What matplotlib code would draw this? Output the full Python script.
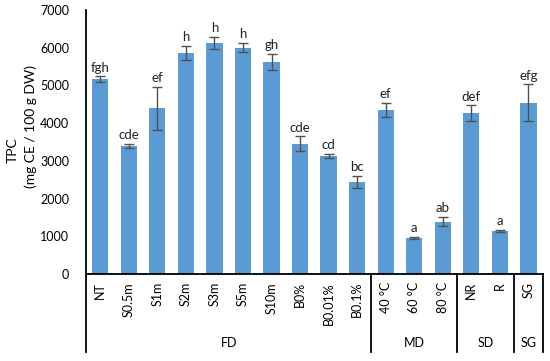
import matplotlib
matplotlib.use("Agg")
import matplotlib.pyplot as plt
import numpy as np

categories = ["NT", "S0.5m", "S1m", "S2m", "S3m", "S5m", "S10m",
              "B0%", "B0.01%", "B0.1%", "40 °C", "60 °C", "80 °C", "NR", "R", "SG"]
tpc = [5160, 3400, 4390, 5870, 6120, 6000, 5620,
       3450, 3140, 2440, 4350, 950, 1390, 4260, 1150, 4540]
err = [80, 55, 575, 185, 165, 125, 220,
       200, 55, 160, 195, 30, 125, 210, 25, 490]
letters = ["fgh", "cde", "ef", "h", "h", "h", "gh",
           "cde", "cd", "bc", "ef", "a", "ab", "def", "a", "efg"]
groups = ["FD", "MD", "SD", "SG"]
group_bounds = [(0, 9), (10, 12), (13, 14), (15, 15)]

plt.rcParams["font.family"] = ["Lato", "DejaVu Sans"]
fs = 9
fig = plt.figure(figsize=(5.5, 3.61), dpi=100)
ax = fig.add_axes([86 / 550, 1 - 274 / 361, (542.7 - 86) / 550, 264 / 361])

x = np.arange(len(categories))
ax.bar(x, tpc, width=0.57, color="#5B9BD5", zorder=2)
ax.errorbar(x, tpc, yerr=err, fmt="none", ecolor="#505050", elinewidth=1,
            capsize=3.5, capthick=1, zorder=3)
for xi, v, e, lab in zip(x, tpc, err, letters):
    ax.text(xi, v + e + 70, lab, ha="center", va="bottom", fontsize=9.5, color="#222222")

ax.set_xlim(-0.5, len(categories) - 0.5)
ax.set_ylim(0, 7000)
ax.set_yticks(range(0, 7001, 1000))
ax.tick_params(axis="y", length=0, pad=12, labelsize=fs)
ax.set_xticks([])
for s in ["top", "right", "left"]:
    ax.spines[s].set_visible(False)
ax.spines["bottom"].set_linewidth(1.3)

# category labels and group separators under the axis
trans = ax.get_xaxis_transform()
low = -(352 - 274) / 264
for xi, c in zip(x, categories):
    ax.text(xi, -0.03, c, rotation=90, ha="center", va="top", fontsize=fs,
            transform=trans)
for xs in [-0.5, 9.5, 12.5, 14.5, 15.5]:
    top = 1 if xs == -0.5 else 0
    ax.plot([xs, xs], [low, top], color="black", lw=1.3, transform=trans,
            clip_on=False)
for g, (a, b) in zip(groups, group_bounds):
    ax.text((a + b) / 2, low + 0.035, g, ha="center", va="center", fontsize=fs,
            transform=trans)

fig.text(12.5 / 550, 1 - 150 / 361, "TPC", rotation=90, ha="center", va="center", fontsize=10)
fig.text(31 / 550, 1 - 127 / 361, "(mg CE / 100 g DW)", rotation=90, ha="center",
         va="center", fontsize=10)

fig.savefig("out.png", dpi=100)
